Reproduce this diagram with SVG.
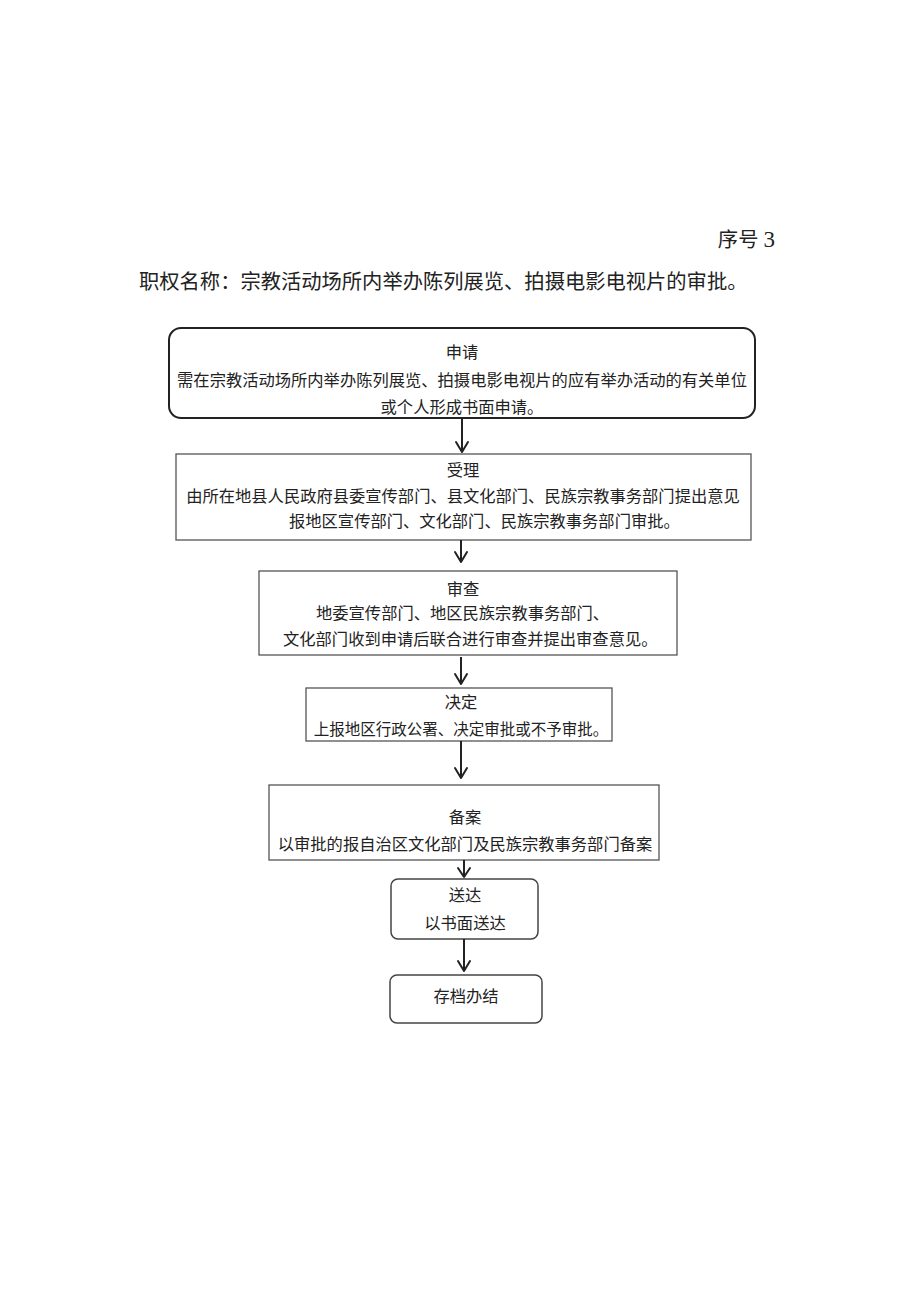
<svg xmlns="http://www.w3.org/2000/svg" width="920" height="1301" viewBox="0 0 920 1301">
<defs>
<style>
.t{font-family:"Liberation Serif","Noto Sans CJK SC",serif;fill:#222;}
.h{font-size:20.3px;}
.b{font-size:16.3px;text-anchor:middle;}
.bs{font-size:16.3px;}
.box{fill:#fff;stroke:#555;stroke-width:1.3;}
.rbox{fill:#fff;stroke:#444;stroke-width:1.5;}
.con line{stroke:#222;stroke-width:2;}
.con path{fill:none;stroke:#222;stroke-width:2;stroke-linecap:round;stroke-linejoin:round;}
</style>
</defs>
<rect width="920" height="1301" fill="#fff"/>
<text class="t h" x="775" y="247" text-anchor="end">序号 <tspan style="font-size:23px">3</tspan></text>
<text class="t h" x="139" y="289">职权名称：宗教活动场所内举办陈列展览、拍摄电影电视片的审批。</text>

<g id="n1">
<rect x="169" y="328" width="586" height="90" rx="12" fill="#fff" stroke="#222" stroke-width="2"/>
<text class="t b" x="462" y="358">申请</text>
<text class="t b" x="462" y="386">需在宗教活动场所内举办陈列展览、拍摄电影电视片的应有举办活动的有关单位</text>
<text class="t b" x="462" y="413">或个人形成书面申请。</text>
</g>
<g id="n2">
<rect class="box" x="176" y="454" width="575" height="86"/>
<text class="t b" x="463" y="476">受理</text>
<text class="t b" x="463" y="502">由所在地县人民政府县委宣传部门、县文化部门、民族宗教事务部门提出意见</text>
<text class="t bs" x="289" y="527">报地区宣传部门、文化部门、民族宗教事务部门审批。</text>
</g>
<g id="n3">
<rect class="box" x="259" y="571" width="418" height="84"/>
<text class="t b" x="463" y="595">审查</text>
<text class="t bs" x="316" y="619">地委宣传部门、地区民族宗教事务部门、</text>
<text class="t bs" x="283" y="645">文化部门收到申请后联合进行审查并提出审查意见。</text>
</g>
<g id="n4">
<rect class="box" x="306" y="688" width="306" height="53"/>
<text class="t b" x="461" y="708">决定</text>
<text class="t b" x="461" y="735" style="font-size:15.5px">上报地区行政公署、决定审批或不予审批。</text>
</g>
<g id="n5">
<rect class="box" x="269" y="785" width="390" height="75"/>
<text class="t b" x="465" y="823">备案</text>
<text class="t b" x="465" y="850">以审批的报自治区文化部门及民族宗教事务部门备案</text>
</g>
<g id="n6">
<rect class="rbox" x="391" y="879" width="147" height="60" rx="7"/>
<text class="t b" x="465" y="901">送达</text>
<text class="t b" x="465" y="929">以书面送达</text>
</g>
<g id="n7">
<rect class="rbox" x="390" y="975" width="152" height="48" rx="7"/>
<text class="t b" x="466" y="1002">存档办结</text>
</g>

<g class="con">
<line x1="462" y1="418" x2="462" y2="452"/><path d="M456 442 L462 452 L468 442"/>
<line x1="461" y1="540" x2="461" y2="562"/><path d="M455 552 L461 562 L467 552"/>
<line x1="461" y1="657" x2="461" y2="684"/><path d="M455 674 L461 684 L467 674"/>
<line x1="461" y1="741" x2="461" y2="778"/><path d="M455 768 L461 778 L467 768"/>
<line x1="464" y1="860" x2="464" y2="877"/><path d="M458 868 L464 877 L470 868"/>
<line x1="464" y1="939" x2="464" y2="971"/><path d="M458 961 L464 971 L470 961"/>
</g>
</svg>
